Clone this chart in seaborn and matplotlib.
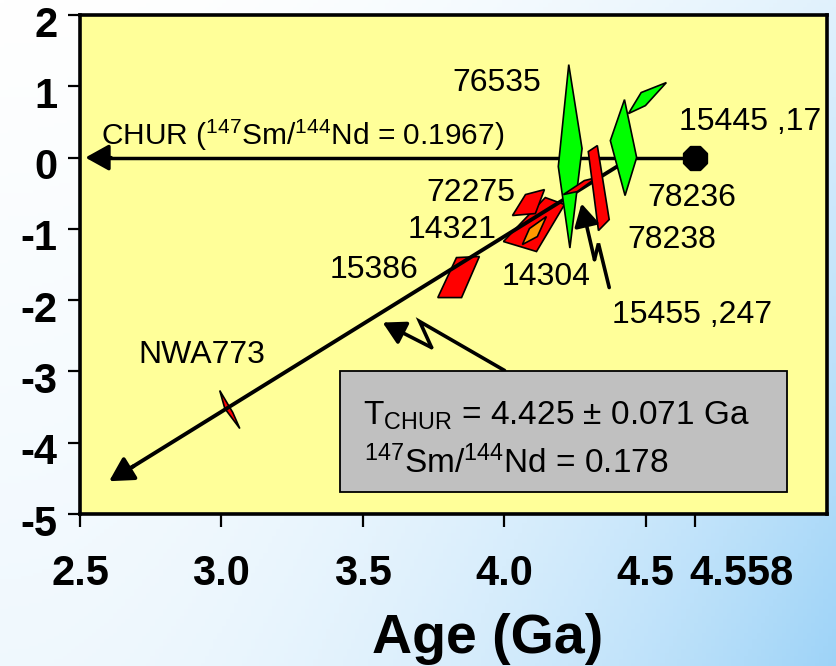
import numpy as np
import matplotlib
matplotlib.use("Agg")
import matplotlib.pyplot as plt
import matplotlib.transforms as mtransforms
from matplotlib.patches import Rectangle
import seaborn as sns

# ---------------- data ----------------
x_ticks = [2.5, 3.0, 3.5, 4.0, 4.5, 4.675]
x_tick_labels = ["2.5", "3.0", "3.5", "4.0", "4.5", "4.558"]
y_ticks = [-5, -4, -3, -2, -1, 0, 1, 2]
y_tick_labels = ["-5", "-4", "-3", "-2", "-1", "0", "1", "2"]

# CHUR reference line (epsilon Nd = 0) and solar system start point
chur_age = [4.675, 2.56]
chur_eps = [0.0, 0.0]
chur_tip_age = 2.519
ss_age = [4.675]
ss_eps = [0.0]

# whole-rock model isochron (T_CHUR = 4.425 Ga)
iso_age = [4.45, 2.64]
iso_eps = [0.0, -4.45]
iso_tip_age = 2.603
iso_tip_eps = -4.54

# sample error envelopes (age Ga, epsilon Nd)
s15386_age = [3.831, 3.912, 3.849, 3.765]
s15386_eps = [-1.403, -1.388, -1.964, -1.964]
s14321_age = [4.145, 4.213, 4.114, 3.997]
s14321_eps = [-0.561, -0.659, -1.318, -1.178]
s72275_age = [4.075, 4.142, 4.110, 4.029]
s72275_eps = [-0.519, -0.449, -0.785, -0.813]
s14304_age = [4.149, 4.117, 4.064, 4.089]
s14304_eps = [-0.827, -1.108, -1.220, -0.996]
nwa773_age = [2.994, 3.040, 3.065, 3.012]
nwa773_eps = [-3.268, -3.575, -3.801, -3.520]
s76535_age = [4.228, 4.275, 4.232, 4.191]
s76535_eps = [1.304, 0.126, -1.269, -0.126]
s78236_age = [4.425, 4.468, 4.427, 4.375]
s78236_eps = [0.813, 0.0, -0.533, 0.238]
s78236b_age = [4.573, 4.484, 4.439, 4.499]
s78236b_eps = [1.052, 0.912, 0.617, 0.729]
s15455_age = [4.209, 4.283, 4.326, 4.258]
s15455_eps = [-0.519, -0.323, -0.281, -0.477]
s78238_age = [4.297, 4.329, 4.371, 4.333]
s78238_eps = [0.084, 0.168, -0.870, -1.024]

# pointer arrows
ptr1_age = [4.001, 3.701, 3.743, 3.570]
ptr1_eps = [-2.987, -2.300, -2.665, -2.314]
ptr2_age = [4.371, 4.333, 4.319, 4.273]
ptr2_eps = [-1.823, -1.206, -1.431, -0.645]

# sample labels (left, baseline)
label_text = ["76535", "15445 ,17", "72275", "14321", "15386", "14304",
              "78236", "78238", "15455 ,247", "NWA773"]
label_age = [3.817, 4.619, 3.724, 3.658, 3.383, 3.989, 4.506, 4.435, 4.382, 2.706]
label_eps = [0.930, 0.393, -0.613, -1.126, -1.687, -1.781, -0.683, -1.262, -2.314, -2.879]

box_age = [3.418, 5.0]
box_eps = [-4.685, -3.0]

# ---------------- style ----------------
sns.set_theme(style="ticks")
plt.rcParams["font.family"] = ["Liberation Sans", "DejaVu Sans"]
plt.rcParams["mathtext.fontset"] = "custom"
plt.rcParams["mathtext.rm"] = "Liberation Sans"
plt.rcParams["mathtext.it"] = "Liberation Sans:italic"
plt.rcParams["mathtext.bf"] = "Liberation Sans:bold"
plt.rcParams["text.color"] = "black"
plt.rcParams["axes.labelcolor"] = "black"
plt.rcParams["xtick.color"] = "black"
plt.rcParams["ytick.color"] = "black"
plt.rcParams["xtick.labelcolor"] = "black"
plt.rcParams["ytick.labelcolor"] = "black"

W, H = 836, 666
fig = plt.figure(figsize=(W / 100, H / 100), dpi=100)

# gradient background
bg = fig.add_axes([0, 0, 1, 1])
gx, gy = np.meshgrid(np.linspace(0, 1, 200), np.linspace(0, 1, 200))
t = np.clip(gy * 0.15 + gx ** 2 * (0.3 + 0.5 * gy), 0, 1)
blue = np.array([0.60, 0.82, 0.97])
img = (1 - t)[..., None] * np.ones(3) + t[..., None] * blue
bg.imshow(img, extent=[0, 1, 0, 1], aspect="auto", origin="upper")
bg.axis("off")
bg.set_zorder(0)

ax = fig.add_axes([80 / W, 1 - 514 / H, (827 - 80) / W, (514 - 15) / H])
ax.set_zorder(1)
ax.set_facecolor("#FFFF99")

# CHUR line
sns.lineplot(x=chur_age, y=chur_eps, ax=ax, color="black", lw=2.5, sort=False, zorder=2)
ax.annotate("", xy=(chur_tip_age, 0.0), xytext=(chur_age[1] + 0.05, 0.0),
            arrowprops=dict(arrowstyle="-|>,head_length=0.45,head_width=0.25",
                            mutation_scale=32, color="black", lw=2.5, shrinkA=0, shrinkB=0),
            zorder=2)

edge = dict(edgecolor="black", linewidth=1.2)
for a, e, c in [(s15386_age, s15386_eps, "#FF0000"),
                (s14321_age, s14321_eps, "#FF0000"),
                (s72275_age, s72275_eps, "#FF0000"),
                (s14304_age, s14304_eps, "#FF9900"),
                (nwa773_age, nwa773_eps, "#FF0000")]:
    ax.fill(a, e, facecolor=c, zorder=3, **edge)

# isochron line
sns.lineplot(x=iso_age, y=iso_eps, ax=ax, color="black", lw=2.8, sort=False, zorder=4)
ax.annotate("", xy=(iso_tip_age, iso_tip_eps), xytext=(iso_age[1] + 0.05, iso_eps[1] + 0.05 * 2.45),
            arrowprops=dict(arrowstyle="-|>,head_length=0.45,head_width=0.25",
                            mutation_scale=32, color="black", lw=2.8, shrinkA=0, shrinkB=0),
            zorder=4)

for a, e in [(s76535_age, s76535_eps), (s78236_age, s78236_eps), (s78236b_age, s78236b_eps)]:
    ax.fill(a, e, facecolor="#00FF00", zorder=5, **edge)
for a, e in [(s15455_age, s15455_eps), (s78238_age, s78238_eps)]:
    ax.fill(a, e, facecolor="#FF0000", zorder=6, **edge)

sns.scatterplot(x=ss_age, y=ss_eps, ax=ax, marker="8", s=330, color="black",
                edgecolor="black", zorder=7)

# pointer arrows (zig-zag)
for pa, pe in [(ptr1_age, ptr1_eps), (ptr2_age, ptr2_eps)]:
    ax.plot(pa[:-1], pe[:-1], color="black", lw=2.6, zorder=6, solid_joinstyle="miter")
    ax.annotate("", xy=(pa[-1], pe[-1]), xytext=(pa[-2], pe[-2]),
                arrowprops=dict(arrowstyle="-|>,head_length=0.45,head_width=0.25",
                                mutation_scale=30, color="black", lw=2.6,
                                shrinkA=0, shrinkB=0), zorder=6)

# labels
for txt, a, e in zip(label_text, label_age, label_eps):
    ax.text(a, e, txt, fontsize=23, ha="left", va="baseline", color="black", zorder=8)
ax.text(2.574, 0.173, r"CHUR ($^{147}$Sm/$^{144}$Nd = 0.1967)", fontsize=21.5,
        ha="left", va="baseline", color="black", zorder=8)

# box
ax.add_patch(Rectangle((box_age[0], box_eps[0]), box_age[1] - box_age[0], box_eps[1] - box_eps[0],
                       facecolor="#C0C0C0", edgecolor="black", lw=1.3, zorder=8))
ax.text(3.499, -3.745, r"T$_{\mathrm{CHUR}}$ = 4.425 ± 0.071 Ga", fontsize=24,
        ha="left", va="baseline", color="black", zorder=9)
ax.text(3.503, -4.42, r"$^{147}$Sm/$^{144}$Nd = 0.178", fontsize=24,
        ha="left", va="baseline", color="black", zorder=9)

# axes
ax.set_xlim(2.5, 5.141)
ax.set_ylim(-5, 2)
ax.set_xticks(x_ticks)
ax.set_xticklabels(x_tick_labels, fontsize=30, fontweight="bold", color="black")
ax.set_yticks(y_ticks)
ax.set_yticklabels(y_tick_labels, fontsize=30, fontweight="bold", color="black")
ax.set_xlabel("")
ax.set_ylabel("")
ax.tick_params(axis="x", direction="out", length=9, width=1.6, pad=20, colors="black")
ax.tick_params(axis="y", direction="out", length=9, width=1.6, pad=7, colors="black")
for s in ax.spines.values():
    s.set_visible(True)
    s.set_linewidth(2.6)
    s.set_color("black")

if ax.get_legend() is not None:
    ax.get_legend().remove()

off_y = mtransforms.ScaledTranslation(0, -6 / 100, fig.dpi_scale_trans)
for lab in ax.get_yticklabels():
    lab.set_transform(lab.get_transform() + off_y)
xl = ax.get_xticklabels()
xl[-1].set_horizontalalignment("left")
xl[-1].set_transform(xl[-1].get_transform() + mtransforms.ScaledTranslation(-6 / 100, 0, fig.dpi_scale_trans))

fig.text(488 / W, 13 / H, "Age (Ga)", fontsize=40, fontweight="bold", ha="center",
         va="baseline", color="black")

fig.savefig("out.png", dpi=100)
